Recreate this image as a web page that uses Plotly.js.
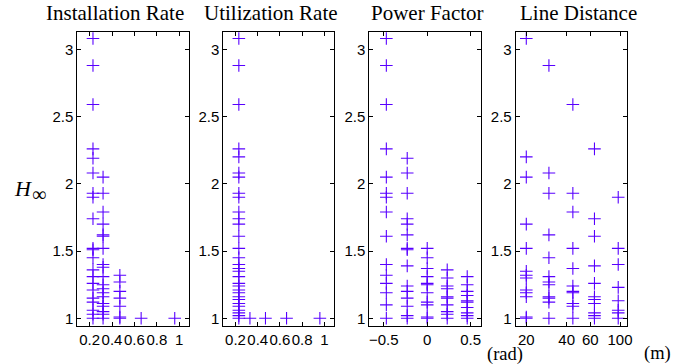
<!DOCTYPE html>
<html>
<head>
<meta charset="utf-8">
<script src="https://cdn.plot.ly/plotly-3.0.1.min.js"></script>
<style>html,body{margin:0;padding:0;background:#fff;}#chart{width:688px;height:364px;}</style>
</head>
<body>
<div id="chart"></div>
<script>
// ---- Data ----
const titles = ["Installation Rate", "Utilization Rate", "Power Factor", "Line Distance"];

const installX = [0.23, 0.32, 0.47, 0.66, 0.96];
const installH = [
  [3.08, 2.88, 2.59, 2.26, 2.19, 2.08, 1.93, 1.90, 1.74, 1.52, 1.51, 1.45, 1.36, 1.31, 1.26, 1.21, 1.15, 1.12, 1.06, 1.03, 1.0],
  [2.05, 1.93, 1.79, 1.70, 1.62, 1.61, 1.52, 1.40, 1.38, 1.31, 1.25, 1.22, 1.19, 1.16, 1.11, 1.09, 1.05, 1.03, 1.0],
  [1.32, 1.27, 1.20, 1.15, 1.09, 1.01, 1.0],
  [1.0],
  [1.0]
];

const utilX = [0.23, 0.33, 0.47, 0.66, 0.96];
const utilH = [
  [3.08, 2.88, 2.59, 2.26, 2.20, 2.08, 2.05, 1.93, 1.90, 1.79, 1.74, 1.70, 1.61, 1.52, 1.45, 1.40, 1.37, 1.35, 1.31, 1.26, 1.24, 1.21, 1.19, 1.16, 1.14, 1.11, 1.09, 1.06, 1.04, 1.02, 1.0],
  [1.0],
  [1.0],
  [1.0],
  [1.0]
];

const powerX = [-0.47, -0.23, 0, 0.23, 0.46];
const powerH = [
  [3.08, 2.88, 2.59, 2.26, 2.05, 1.93, 1.90, 1.79, 1.61, 1.40, 1.32, 1.26, 1.19, 1.10, 1.0],
  [2.19, 2.08, 1.93, 1.74, 1.70, 1.62, 1.52, 1.51, 1.39, 1.24, 1.20, 1.15, 1.09, 1.02, 1.0],
  [1.52, 1.45, 1.37, 1.31, 1.26, 1.25, 1.19, 1.12, 1.10, 1.01, 1.0],
  [1.36, 1.30, 1.24, 1.22, 1.16, 1.15, 1.10, 1.05, 1.03, 1.0],
  [1.31, 1.25, 1.20, 1.17, 1.13, 1.12, 1.08, 1.04, 1.02, 1.0]
];

const distX = [20, 29.5, 44.5, 64.5, 97];
const distH = [
  [3.08, 2.20, 2.05, 1.70, 1.52, 1.35, 1.32, 1.30, 1.21, 1.19, 1.16, 1.01, 1.0],
  [2.88, 2.08, 1.93, 1.62, 1.45, 1.31, 1.27, 1.25, 1.16, 1.15, 1.12, 1.0],
  [2.59, 1.93, 1.79, 1.52, 1.37, 1.24, 1.20, 1.19, 1.11, 1.09, 1.0],
  [2.26, 1.74, 1.61, 1.39, 1.26, 1.16, 1.14, 1.11, 1.04, 1.02, 1.0],
  [1.90, 1.52, 1.40, 1.23, 1.13, 1.06, 1.04, 1.0]
];

const rateTicks = [0.2, 0.4, 0.6, 0.8, 1];
const rateTickText = ["0.2", "0.4", "0.6", "0.8", "1"];
const powerTicks = [-0.5, 0, 0.5];
const powerTickText = ["\u22120.5", "0", "0.5"];
const distTicks = [20, 40, 60, 100];
const distTickText = ["20", "40", "60", "100"];
const hTicks = [1, 1.5, 2, 2.5, 3];

// ---- Build ----
function flatten(xs, hs) {
  const x = [], y = [];
  xs.forEach((xv, i) => hs[i].forEach(v => { x.push(xv); y.push(v); }));
  return {x, y};
}

const markerColor = "#5800ff";
const sets = [flatten(installX, installH), flatten(utilX, utilH), flatten(powerX, powerH), flatten(distX, distH)];
const traces = sets.map((s, i) => ({
  type: "scatter", mode: "markers",
  x: s.x, y: s.y,
  xaxis: i === 0 ? "x" : "x" + (i + 1),
  yaxis: i === 0 ? "y" : "y" + (i + 1),
  marker: {symbol: "cross-thin-open", size: 9, color: markerColor, line: {color: markerColor, width: 1.1}},
  hoverinfo: "skip"
}));

const W = 688, H = 364;
const xDomains = [[77.3, 189.3], [223.3, 334.3], [369.3, 480.7], [515.7, 626.7]].map(d => [d[0] / W, d[1] / W]);
const yDomain = [(H - 325.7) / H, (H - 31.7) / H];
const titleCenters = [114.7, 270.5, 427.8, 578.5];

const tickFont = {family: "Liberation Sans, Arial, sans-serif", size: 15, color: "#000"};
function axisBase() {
  return {
    showline: true, linecolor: "#000", linewidth: 1, mirror: "ticks",
    ticks: "inside", ticklen: 4, tickcolor: "#000", tickwidth: 1,
    showgrid: false, zeroline: false, tickfont: tickFont, fixedrange: true,
    tickangle: 0
  };
}

const serif = "Liberation Serif, Times New Roman, serif";
const layout = {
  width: W, height: H,
  margin: {l: 0, r: 0, t: 0, b: 0},
  paper_bgcolor: "#fff", plot_bgcolor: "#fff",
  showlegend: false,
  annotations: []
};

const xRanges = [[0.09, 1.09], [0.09, 1.09], [-0.666, 0.615], [1.222, 2.05]];
const xTickVals = [rateTicks, rateTicks, powerTicks, distTicks];
const xTickText = [rateTickText, rateTickText, powerTickText, distTickText];

for (let i = 0; i < 4; i++) {
  const xa = axisBase();
  xa.domain = xDomains[i];
  xa.range = xRanges[i];
  xa.tickmode = "array";
  xa.tickvals = xTickVals[i];
  xa.ticktext = xTickText[i];
  xa.anchor = i === 0 ? "y" : "y" + (i + 1);
  if (i === 3) xa.type = "log";
  const ya = axisBase();
  ya.domain = yDomain;
  ya.range = [0.945, 3.131];
  ya.tickmode = "array";
  ya.tickvals = hTicks;
  ya.ticktext = hTicks.map(String);
  ya.anchor = i === 0 ? "x" : "x" + (i + 1);
  layout[i === 0 ? "xaxis" : "xaxis" + (i + 1)] = xa;
  layout[i === 0 ? "yaxis" : "yaxis" + (i + 1)] = ya;

  layout.annotations.push({
    text: titles[i], xref: "paper", yref: "paper",
    x: titleCenters[i] / W, y: (H - 13.5) / H,
    xanchor: "center", yanchor: "middle", showarrow: false,
    font: {family: serif, size: 21, color: "#000"}
  });
}

// H-infinity label: italic H with infinity subscript
layout.annotations.push({
  text: "<i>H</i>", xref: "paper", yref: "paper",
  x: 22.5 / W, y: (H - 189) / H, xanchor: "center", yanchor: "middle", showarrow: false,
  font: {family: serif, size: 22, color: "#000"}
});
layout.annotations.push({
  text: "\u221e", xref: "paper", yref: "paper",
  x: 39 / W, y: (H - 194) / H, xanchor: "center", yanchor: "middle", showarrow: false,
  font: {family: serif, size: 20, color: "#000"}
});
layout.annotations.push({
  text: "(rad)", xref: "paper", yref: "paper",
  x: 505 / W, y: (H - 354.5) / H, xanchor: "center", yanchor: "middle", showarrow: false,
  font: {family: serif, size: 18.5, color: "#000"}
});
layout.annotations.push({
  text: "(m)", xref: "paper", yref: "paper",
  x: 657 / W, y: (H - 353) / H, xanchor: "center", yanchor: "middle", showarrow: false,
  font: {family: serif, size: 18.5, color: "#000"}
});

Plotly.newPlot("chart", traces, layout, {displayModeBar: false, staticPlot: true});
</script>
</body>
</html>
